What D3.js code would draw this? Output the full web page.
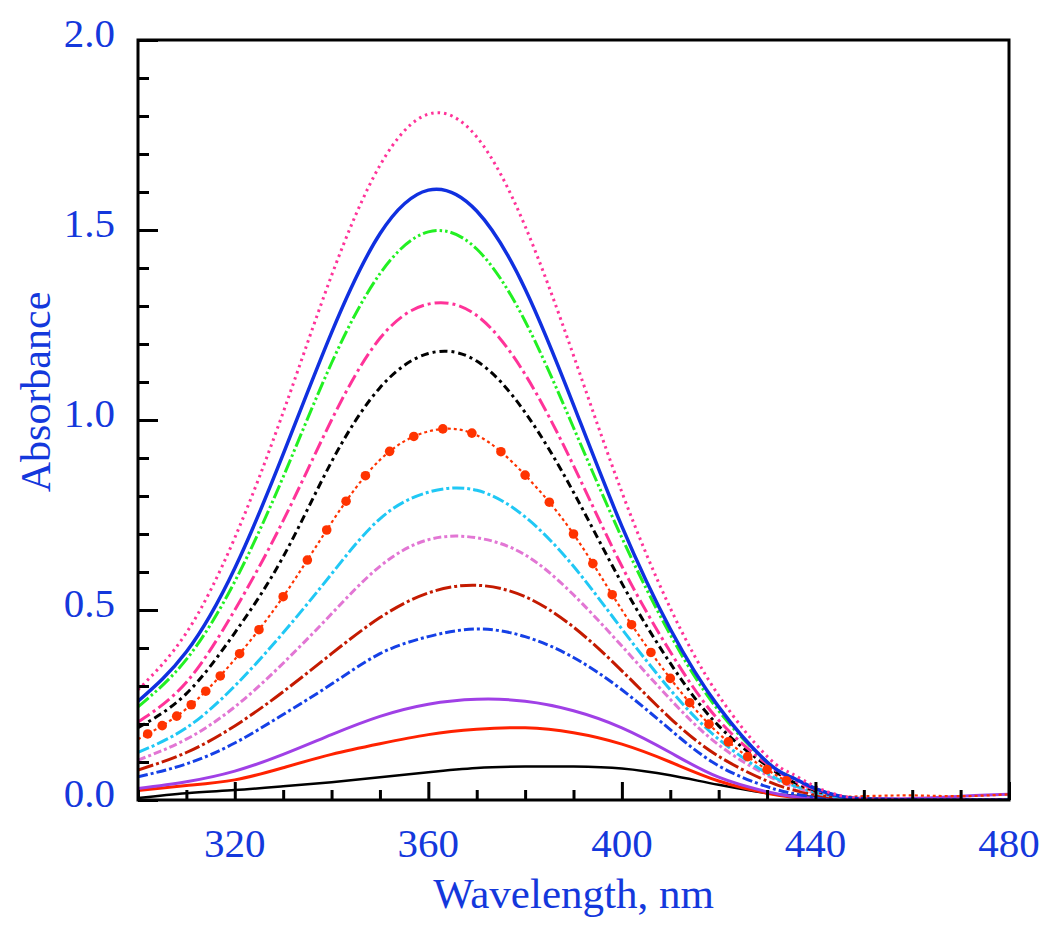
<!DOCTYPE html>
<html>
<head>
<meta charset="utf-8">
<script src="https://cdn.jsdelivr.net/npm/d3@7/dist/d3.min.js"></script>
<style>
  html, body { margin: 0; padding: 0; background: #ffffff; }
  svg { display: block; }
</style>
</head>
<body>
<svg id="chart" width="1050" height="928"></svg>
<script>
// ---------------- data ----------------
const wavelengths = [300,310,320,330,340,350,360,370,380,390,400,410,420,430,435,440,445,450,460,470,480];

const s1  = [0.29,0.44,0.69,1.02,1.38,1.67,1.805,1.745,1.51,1.17,0.81,0.505,0.275,0.115,0.07,0.035,0.012,0.004,0,0,0];
const s2  = [0.26,0.39,0.61,0.91,1.23,1.49,1.605,1.55,1.345,1.04,0.72,0.45,0.245,0.10,0.06,0.03,0.01,0.003,0,0,0];
const s3  = [0.245,0.37,0.575,0.85,1.15,1.385,1.495,1.45,1.26,0.98,0.69,0.435,0.235,0.10,0.06,0.03,0.01,0.003,0,0,0];
const s4  = [0.205,0.31,0.50,0.735,1.0,1.215,1.305,1.275,1.12,0.88,0.615,0.39,0.21,0.095,0.055,0.027,0.01,0.003,0,0,0];
const s5  = [0.19,0.28,0.44,0.64,0.89,1.085,1.175,1.155,1.02,0.81,0.57,0.36,0.195,0.09,0.05,0.025,0.01,0.003,0,0,0];
const s6  = [0.16,0.24,0.37,0.535,0.73,0.895,0.97,0.96,0.855,0.70,0.50,0.32,0.175,0.08,0.045,0.022,0.01,0.01,0.012,0.01,0.015];
const s7  = [0.125,0.19,0.30,0.44,0.595,0.74,0.81,0.815,0.745,0.615,0.45,0.29,0.16,0.07,0.04,0.02,0.007,0.002,0,0,0];
const s8  = [0.105,0.16,0.245,0.36,0.49,0.615,0.685,0.69,0.645,0.54,0.405,0.265,0.145,0.065,0.037,0.018,0.007,0.002,0,0,0];
const s9  = [0.079,0.125,0.195,0.285,0.385,0.48,0.545,0.565,0.535,0.455,0.34,0.215,0.115,0.05,0.028,0.014,0.005,0.001,0,0,0];
const s10 = [0.061,0.095,0.15,0.225,0.305,0.385,0.43,0.45,0.43,0.375,0.29,0.185,0.09,0.035,0.018,0.008,0.003,0,0,0,0];
const s11 = [0.03,0.048,0.076,0.12,0.172,0.22,0.252,0.265,0.26,0.235,0.19,0.125,0.06,0.022,0.01,0.005,0.004,0.004,0.004,0.01,0.015];
const s12 = [0.025,0.038,0.053,0.085,0.12,0.148,0.172,0.186,0.19,0.177,0.147,0.10,0.05,0.018,0.008,0.003,0.001,0,0,0,0];
const s13 = [0.005,0.018,0.026,0.036,0.047,0.06,0.073,0.084,0.088,0.088,0.083,0.065,0.04,0.018,0.012,0.008,0.005,0.003,0.002,0.002,0.002];

const seriesValues = [s1,s2,s3,s4,s5,s6,s7,s8,s9,s10,s11,s12,s13];

// wavelengths where the markers of series 6 sit
const markerWavelengths = [302,305,308,311,314,317,321,325,330,335,339,343,347,352,357,363,369,375,380,385,390,394,398,402,406,410,414,418,422,426,430,434];

const xTickLabels = [320,360,400,440,480];
const yTickLabels = [0.0,0.5,1.0,1.5,2.0];

// ---------------- styles ----------------
const styles = [
  {color:"#ff3399", width:3,   dash:"2.5,4"},
  {color:"#1030e0", width:3.5, dash:null},
  {color:"#22f022", width:3,   dash:"14,3,2.5,3,2.5,3"},
  {color:"#ff3399", width:3,   dash:"14,4,3,4"},
  {color:"#000000", width:3,   dash:"8,4,3,4"},
  {color:"#ff3300", width:2.2, dash:"3,3"},
  {color:"#20c8f5", width:3,   dash:"12,3,3,3"},
  {color:"#e276d4", width:3,   dash:"8,3,3,3"},
  {color:"#c41a00", width:3,   dash:"16,3,3,3"},
  {color:"#1540e6", width:3,   dash:"10,3,3,3"},
  {color:"#a040e6", width:3,   dash:null},
  {color:"#ff2200", width:3,   dash:null},
  {color:"#000000", width:2.5, dash:null}
];

const textBlue = "#1438dc";
const fontFam = "'Liberation Serif','Times New Roman',serif";

// ---------------- layout ----------------
const plotLeft = 138, plotRight = 1009, plotTop = 40, plotBottom = 800;
const svg = d3.select("#chart");

const x = d3.scaleLinear().domain([300,480]).range([plotLeft,plotRight]);
const y = d3.scaleLinear().domain([0,2]).range([plotBottom,plotTop]);

svg.append("defs").append("clipPath").attr("id","plotclip")
  .append("rect").attr("x",plotLeft).attr("y",plotTop-2).attr("width",plotRight-plotLeft).attr("height",plotBottom-plotTop+2);

const plot = svg.append("g").attr("clip-path","url(#plotclip)");

const line = d3.line()
  .x((d,i)=>x(wavelengths[i]))
  .y(d=>y(d))
  .curve(d3.curveNatural);

// draw from bottom curve up
const paths = [];
for (let k = seriesValues.length-1; k >= 0; k--) {
  const st = styles[k];
  const p = plot.append("path")
    .datum(seriesValues[k])
    .attr("d", line)
    .attr("fill","none")
    .attr("stroke", st.color)
    .attr("stroke-width", st.width)
    .attr("stroke-linejoin","round");
  if (st.dash) p.attr("stroke-dasharray", st.dash);
  paths[k] = p;
}

// markers of series 6, placed on its drawn path
(function(){
  const node = paths[5].node();
  const L = node.getTotalLength();
  function yAt(px){
    let lo = 0, hi = L;
    for (let it=0; it<40; it++){
      const mid = (lo+hi)/2;
      const pt = node.getPointAtLength(mid);
      if (pt.x < px) lo = mid; else hi = mid;
    }
    return node.getPointAtLength((lo+hi)/2).y;
  }
  plot.selectAll("circle.m6").data(markerWavelengths).enter().append("circle")
    .attr("class","m6")
    .attr("cx", d=>x(d))
    .attr("cy", d=>yAt(x(d)))
    .attr("r", 4.8)
    .attr("fill", styles[5].color);
})();

// ---------------- axes ----------------
const xMinor = d3.range(300,481,10).filter(v=>xTickLabels.indexOf(v)<0);
const xAxisMajor = d3.axisTop(x).tickValues(xTickLabels).tickSize(18).tickFormat("");
const xAxisMinor = d3.axisTop(x).tickValues(xMinor).tickSize(10).tickFormat("");
[xAxisMajor, xAxisMinor].forEach(ax=>{
  const g = svg.append("g").attr("transform",`translate(0,${plotBottom})`).call(ax);
  g.select(".domain").remove();
  g.selectAll("line").attr("stroke","#000").attr("stroke-width",3);
});

const yMinor = d3.range(0,21,1).map(v=>v/10).filter(v=>yTickLabels.every(t=>Math.abs(t-v)>1e-6));
const yAxisMajor = d3.axisRight(y).tickValues(yTickLabels).tickSize(20).tickFormat("");
const yAxisMinor = d3.axisRight(y).tickValues(yMinor).tickSize(11).tickFormat("");
[yAxisMajor, yAxisMinor].forEach(ax=>{
  const g = svg.append("g").attr("transform",`translate(${plotLeft},0)`).call(ax);
  g.select(".domain").remove();
  g.selectAll("line").attr("stroke","#000").attr("stroke-width",3);
});

// frame
svg.append("rect").attr("x",plotLeft).attr("y",plotTop).attr("width",plotRight-plotLeft).attr("height",plotBottom-plotTop)
  .attr("fill","none").attr("stroke","#000").attr("stroke-width",3);

// tick labels
svg.append("g").selectAll("text").data(xTickLabels).enter().append("text")
  .attr("x", d=>x(d)).attr("y", 857)
  .attr("text-anchor","middle")
  .attr("font-family", fontFam).attr("font-size", 41).attr("fill", textBlue)
  .text(d=>d);

svg.append("g").selectAll("text").data(yTickLabels).enter().append("text")
  .attr("x", 115).attr("y", d=>y(d)+7)
  .attr("text-anchor","end")
  .attr("font-family", fontFam).attr("font-size", 41).attr("fill", textBlue)
  .text(d=>d3.format(".1f")(d));

// axis titles
svg.append("text")
  .attr("x", (plotLeft+plotRight)/2).attr("y", 908)
  .attr("text-anchor","middle")
  .attr("font-family", fontFam).attr("font-size", 43).attr("fill", textBlue)
  .text("Wavelength, nm");

svg.append("text")
  .attr("transform","translate(50,392) rotate(-90)")
  .attr("text-anchor","middle")
  .attr("font-family", fontFam).attr("font-size", 42).attr("fill", textBlue)
  .text("Absorbance");
</script>
</body>
</html>
